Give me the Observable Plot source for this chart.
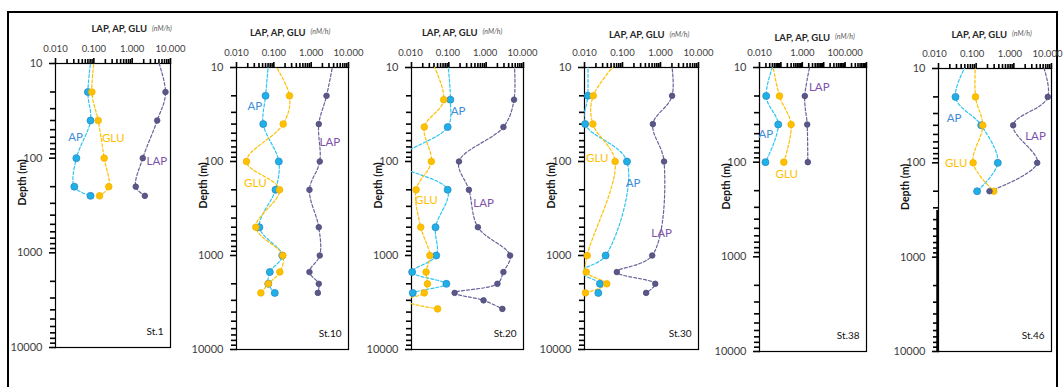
<!DOCTYPE html>
<html><head><meta charset="utf-8">
<script src="https://cdn.jsdelivr.net/npm/d3@7"></script>
<script src="https://cdn.jsdelivr.net/npm/@observablehq/plot@0.6"></script>
<style>
body{margin:0;background:#fff;}
#root{position:relative;width:1064px;height:387px;overflow:hidden;background:#fff;font-family:Lato,sans-serif;}
#frame{position:absolute;left:7px;top:11px;width:1051px;height:400px;border-top:2px solid #000;border-left:2px solid #000;border-right:2px solid #000;box-sizing:border-box;}
.panel{position:absolute;}
</style></head><body><div id="root"><div id="frame"></div></div>
<script>
// ---- data ----
const stations = ["St.1", "St.10", "St.20", "St.30", "St.38", "St.46"];
const seriesNames = ["AP", "GLU", "LAP"];
const yTicks = [10, 100, 1000, 10000];
const xTicksA = [0.01, 0.1, 1, 10];
const xTicksB = [0.01, 1, 100];

const st1_depth = [5, 20, 40, 100, 200, 250];
const st1_AP    = [0.104, 0.070, 0.082, 0.035, 0.031, 0.082];
const st1_GLU   = [0.127, 0.089, 0.130, 0.186, 0.246, 0.141];
const st1_LAP   = [2.73, 7.4, 4.5, 1.89, 1.24, 2.14];

const st10_depth = [5, 20, 40, 100, 200, 500, 1000, 1500, 2000, 2500];
const st10_AP    = [0.083, 0.060, 0.052, 0.136, 0.111, 0.041, 0.168, 0.078, 0.071, 0.106];
const st10_GLU   = [0.038, 0.263, 0.178, 0.0185, 0.142, 0.033, 0.174, 0.145, 0.071, 0.045];
const st10_LAP   = [5.1, 2.58, 1.60, 1.70, 0.90, 1.60, 1.70, 0.90, 1.60, 1.51];

const st20_depth = [5, 22, 43, 100, 200, 500, 1000, 1500, 2000, 2500, 3000, 3700];
const st20_AP    = [0.081, 0.11, 0.093, 0.004, 0.093, 0.044, 0.046, 0.0104, 0.086, 0.0108, 0.005, 0.003];
const st20_GLU   = [0.0174, 0.073, 0.022, 0.034, 0.0133, 0.0177, 0.031, 0.0246, 0.0267, 0.022, 0.006, 0.050];
const st20_LAP   = [5.1, 5.58, 2.9, 0.187, 0.345, 0.6, 4.37, 2.9, 2.0, 0.143, 0.85, 2.72];

const st30_depth = [5, 20, 40, 100, 1000, 1500, 2000, 2500];
const st30_AP    = [0.012, 0.0122, 0.0104, 0.131, 0.036, 0.008, 0.0255, 0.0231];
const st30_GLU   = [0.25, 0.017, 0.0166, 0.064, 0.0118, 0.0111, 0.0385, 0.0106];
const st30_LAP   = [1.55, 2.02, 0.63, 1.24, 0.605, 0.071, 0.728, 0.419];

const st38_depth = [5, 20, 40, 100];
const st38_AP    = [0.123, 0.0206, 0.075, 0.019];
const st38_GLU   = [0.0254, 0.086, 0.30, 0.137];
const st38_LAP   = [4.5, 1.31, 1.69, 1.81];

const st46_depth = [5, 20, 40, 100, 200];
const st46_AP    = [0.133, 0.0283, 0.136, 0.375, 0.106];
const st46_GLU   = [0.104, 0.096, 0.15, 0.083, 0.294];
const st46_LAP   = [3.27, 7.97, 0.96, 4.17, 0.226];

// series label anchors (value, depth)
const st1_labels  = [["AP", 0.0333, 60], ["GLU", 0.32, 61], ["LAP", 4.4, 108]];
const st10_labels = [["AP", 0.031, 26], ["GLU", 0.032, 172], ["LAP", 3.16, 62]];
const st20_labels = [["AP", 0.176, 29.5], ["GLU", 0.025, 256], ["LAP", 0.85, 278]];
const st30_labels = [["GLU", 0.0217, 92], ["AP", 0.189, 170], ["LAP", 1.07, 587]];
const st38_labels = [["LAP", 6.2, 16], ["AP", 0.0198, 51], ["GLU", 0.189, 135]];
const st46_labels = [["AP", 0.026, 33.4], ["LAP", 3.76, 52], ["GLU", 0.0295, 101]];

// ---- layout ----
const layout = [
  {L: 55,  R: 170,  T: 63, B: 347, xMax: 10,   ticks: xTicksA, tdx: 34, tdy: -38,   ldx: 0},
  {L: 236, R: 348,  T: 67, B: 349, xMax: 10,   ticks: xTicksA, tdx: 13, tdy: -38.5, ldx: 0},
  {L: 411, R: 523,  T: 67, B: 349, xMax: 10,   ticks: xTicksA, tdx: 10, tdy: -38.5, ldx: -1},
  {L: 584, R: 698,  T: 67, B: 349, xMax: 10,   ticks: xTicksA, tdx: 23, tdy: -36,   ldx: 0},
  {L: 759, R: 866,  T: 67, B: 351, xMax: 1000, ticks: xTicksB, tdx: 17, tdy: -33.5, ldx: 0},
  {L: 938, R: 1051, T: 68, B: 351, xMax: 10,   ticks: xTicksA, tdx: 12, tdy: -37.5, ldx: -4}
];
const data = [
  [st1_depth, st1_AP, st1_GLU, st1_LAP, st1_labels],
  [st10_depth, st10_AP, st10_GLU, st10_LAP, st10_labels],
  [st20_depth, st20_AP, st20_GLU, st20_LAP, st20_labels],
  [st30_depth, st30_AP, st30_GLU, st30_LAP, st30_labels],
  [st38_depth, st38_AP, st38_GLU, st38_LAP, st38_labels],
  [st46_depth, st46_AP, st46_GLU, st46_LAP, st46_labels]
];

const lineColor = {AP: "#2CC6F2", GLU: "#FFC000", LAP: "#66649A"};
const dotFill   = {AP: "#1CB2E8", GLU: "#FFC000", LAP: "#5B5888"};
const dotStroke = {AP: "#2F86C6", GLU: "#F2B200", LAP: "#4E4B7C"};
const dotR      = {AP: 3.5, GLU: 3.3, LAP: 2.8};
const textColor = {AP: "#3D8ED8", GLU: "#FFC000", LAP: "#7E52AA"};

const root = document.getElementById("root");
const yMinor = [];
for (let k = 1; k < 4; k++) for (let m = 2; m <= 9; m++) yMinor.push(+(m * 10 ** k).toPrecision(3));

layout.forEach((p, i) => {
  const [depth, AP, GLU, LAP, labels] = data[i];
  const vals = {AP, GLU, LAP};
  const rows = [];
  for (const s of seriesNames) vals[s].forEach((v, j) => rows.push({series: s, v, depth: depth[j]}));
  const xMin = 0.01, xMax = p.xMax;
  const kMax = Math.round(Math.log10(xMax));
  const xMajor = [], xMinor = [];
  for (let k = -2; k <= kMax; k++) xMajor.push(+(10 ** k).toPrecision(3));
  for (let k = -2; k < kMax; k++) for (let m = 2; m <= 9; m++) xMinor.push(+(m * 10 ** k).toPrecision(3));
  const fw = p.R - p.L, fh = p.B - p.T;
  const mL = 50, mR = 22, mT = 48, mB = 12;
  const marks = [
    // tick marks (outside the frame)
    Plot.ruleX(xMinor, {x: d => d, insetTop: -4, insetBottom: fh - 1, stroke: "#000", strokeWidth: 1.6}),
    Plot.ruleX(xMajor, {x: d => d, insetTop: -5, insetBottom: fh - 1, stroke: "#000", strokeWidth: 1.6}),
    Plot.ruleY(yMinor, {y: d => d, insetLeft: -5, insetRight: fw - 1, stroke: "#000", strokeWidth: 1.6}),
    Plot.ruleY(yTicks, {y: d => d, insetLeft: -6, insetRight: fw - 1, stroke: "#000", strokeWidth: 1.6}),
    // tick labels
    Plot.axisX(p.ticks, {anchor: "top", tickSize: 0, tickPadding: 12, label: null, fill: "#404040", fontSize: 9.5,
      dx: p.ldx, tickFormat: d => d.toFixed(3)}),
    Plot.axisY(yTicks, {anchor: "left", tickSize: 0, tickPadding: 13, label: null,
      fill: "#404040", fontSize: 11, tickFormat: d => String(d)}),
    Plot.frame({stroke: "#000", strokeWidth: 1.2})
  ];
  if (i === 5) marks.push(Plot.ruleX([xMin], {y1: 320, y2: 10000, stroke: "#000", strokeWidth: 2.5, dx: -1}));
  for (const s of seriesNames) {
    marks.push(Plot.line(rows.filter(d => d.series === s), {
      x: "v", y: "depth", stroke: lineColor[s], strokeWidth: 1.2, strokeDasharray: "3,2",
      curve: "catmull-rom", clip: true
    }));
  }
  for (const s of seriesNames) {
    marks.push(Plot.dot(rows.filter(d => d.series === s && d.v >= xMin && d.v <= xMax && d.depth >= 10), {
      x: "v", y: "depth", r: dotR[s], fill: dotFill[s], stroke: dotStroke[s], strokeWidth: 0.8
    }));
  }
  for (const s of seriesNames) {
    marks.push(Plot.text(labels.filter(d => d[0] === s), {
      x: d => d[1], y: d => d[2], text: d => d[0], fill: textColor[s], fontSize: 11.5
    }));
  }
  marks.push(
    Plot.text(["LAP, AP, GLU"], {frameAnchor: "top", dx: p.tdx, dy: p.tdy, text: d => d, textAnchor: "end",
      fontWeight: "bold", fontSize: 9.5, fill: "#262626"}),
    Plot.text(["(nM/h)"], {frameAnchor: "top", dx: p.tdx + 5, dy: p.tdy + 0.5, text: d => d, textAnchor: "start",
      fontStyle: "italic", fontSize: 7, fill: "#595959"}),
    Plot.text(["Depth (m)"], {frameAnchor: "left", dx: -33, rotate: -90, text: d => d,
      fontWeight: "bold", fontSize: 10.5, fill: "#111"}),
    Plot.text([stations[i]], {frameAnchor: "bottom-right", dx: -7, dy: -13, text: d => d, textAnchor: "end",
      fontSize: 10, fill: "#111"})
  );
  const chart = Plot.plot({
    width: fw + mL + mR,
    height: fh + mT + mB,
    marginLeft: mL, marginRight: mR, marginTop: mT, marginBottom: mB,
    x: {type: "log", domain: [xMin, xMax]},
    y: {type: "log", domain: [10, 10000], reverse: true},
    style: {background: "transparent", fontFamily: "Lato, sans-serif", overflow: "visible", maxWidth: "none"},
    marks
  });
  const wrap = document.createElement("div");
  wrap.className = "panel";
  wrap.style.left = (p.L - mL) + "px";
  wrap.style.top = (p.T - mT) + "px";
  wrap.appendChild(chart);
  root.appendChild(wrap);
});
</script>
</body></html>
